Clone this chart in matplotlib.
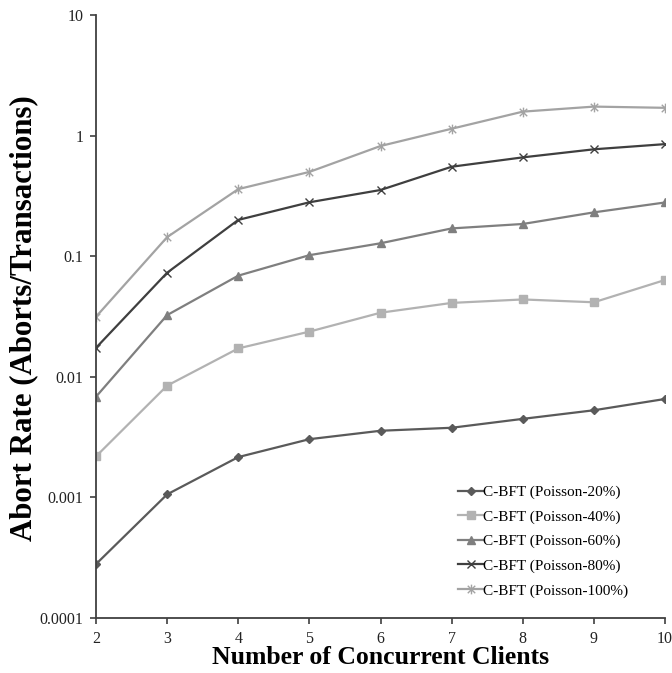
import matplotlib
matplotlib.use("Agg")
import matplotlib.pyplot as plt
from matplotlib.path import Path

plt.rcParams['font.family'] = ['Liberation Serif', 'DejaVu Serif']

clients = [2, 3, 4, 5, 6, 7, 8, 9, 10]
labels = ["C-BFT (Poisson-20%)", "C-BFT (Poisson-40%)", "C-BFT (Poisson-60%)",
          "C-BFT (Poisson-80%)", "C-BFT (Poisson-100%)"]

poisson_20 = [0.00028, 0.00106, 0.00216, 0.00304, 0.00357, 0.00378, 0.00448, 0.00528, 0.00655]
poisson_40 = [0.00219, 0.00845, 0.0172, 0.0237, 0.0340, 0.0410, 0.0438, 0.0415, 0.0635]
poisson_60 = [0.00684, 0.0325, 0.0690, 0.102, 0.128, 0.170, 0.185, 0.231, 0.279]
poisson_80 = [0.0174, 0.0730, 0.200, 0.280, 0.354, 0.552, 0.660, 0.770, 0.850]
poisson_100 = [0.0315, 0.144, 0.360, 0.500, 0.820, 1.14, 1.58, 1.74, 1.70]

ytick_vals = [0.0001, 0.001, 0.01, 0.1, 1, 10]
ytick_labels = ["0.0001", "0.001", "0.01", "0.1", "1", "10"]

# asterisk marker: x with a vertical bar
asterisk = Path(
    [(-1, -1), (1, 1), (-1, 1), (1, -1), (0, -1.3), (0, 1.3)],
    [Path.MOVETO, Path.LINETO, Path.MOVETO, Path.LINETO, Path.MOVETO, Path.LINETO],
)

styles = [
    dict(color="#5a5a5a", marker="D", ms=4),
    dict(color="#b2b2b2", marker="s", ms=5.5),
    dict(color="#7f7f7f", marker="^", ms=6),
    dict(color="#3f3f3f", marker="x", ms=6, mew=1.0),
    dict(color="#a3a3a3", marker=asterisk, ms=7, mew=1.0),
]
series = [poisson_20, poisson_40, poisson_60, poisson_80, poisson_100]

fig = plt.figure(figsize=(6.72, 6.73), dpi=100)
ax = fig.add_axes([0.1429, 0.0817, 0.8467, 0.896])

for vals, lab, st in zip(series, labels, styles):
    ax.plot(clients, vals, label=lab, lw=1.6, color=st["color"], marker=st["marker"],
            markersize=st["ms"], markeredgewidth=st.get("mew", 1.0),
            markerfacecolor=st["color"], markeredgecolor=st["color"])

ax.set_yscale("log")
ax.set_ylim(0.0001, 10)
ax.set_xlim(2, 10)
ax.set_xticks(clients)
ax.set_yticks(ytick_vals)
ax.set_yticklabels(ytick_labels)
ax.yaxis.set_minor_locator(matplotlib.ticker.NullLocator())

for s in ["top", "right"]:
    ax.spines[s].set_visible(False)
for s in ["left", "bottom"]:
    ax.spines[s].set_color("#404040")
    ax.spines[s].set_linewidth(1.3)

ax.tick_params(axis="both", which="major", direction="out", length=4, width=1.2,
               colors="#404040", labelcolor="#222222", labelsize=11.5)
ax.tick_params(axis="x", pad=5)
ax.tick_params(axis="y", pad=5)

ax.set_xlabel("Number of Concurrent Clients", fontsize=18.5, fontweight="bold")
ax.set_ylabel("Abort Rate (Aborts/Transactions)", fontsize=22.2, fontweight="bold")
ax.xaxis.set_label_coords(0.5, -0.047)
ax.yaxis.set_label_coords(-0.102, 0.497)

leg = ax.legend(loc="lower right", bbox_to_anchor=(0.935, 0.034), frameon=False,
                fontsize=11, handlelength=1.6, handletextpad=0.0, labelspacing=0.7,
                borderaxespad=0.0, borderpad=0.0)

fig.savefig("out.png", dpi=100)
